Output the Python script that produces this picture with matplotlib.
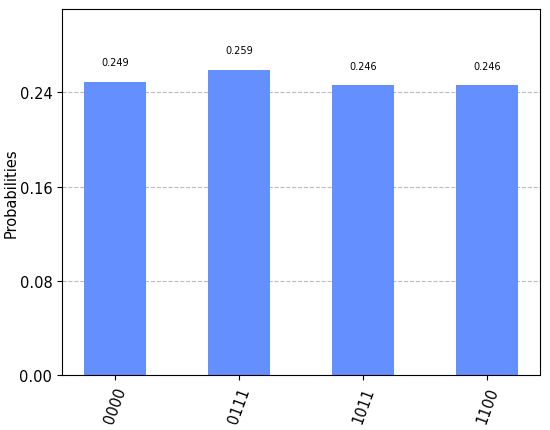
import matplotlib
matplotlib.use("Agg")
import matplotlib.pyplot as plt
from matplotlib.ticker import FormatStrFormatter

# measurement outcomes and their probabilities
states = ["0000", "0111", "1011", "1100"]
probs = [0.249, 0.259, 0.246, 0.246]
yticks = [0.00, 0.08, 0.16, 0.24]


def plot_histogram(labels, values):
    fig = plt.figure(figsize=(5.5, 4.31), dpi=100)
    ax = fig.add_axes([0.1127, 0.1276, 0.8693, 0.8494])
    xs = range(len(labels))
    rects = ax.bar(xs, values, width=0.5, color="#648fff", zorder=2)
    for rect in rects:
        h = rect.get_height()
        ax.text(rect.get_x() + rect.get_width() / 2., 1.05 * h, "%.3f" % h,
                ha="center", va="bottom", fontsize=7, zorder=3)
    ax.set_xticks(list(xs))
    ax.set_xticklabels(labels, fontsize=10.5, rotation=70)
    ax.set_yticks(yticks)
    ax.yaxis.set_major_formatter(FormatStrFormatter("%.2f"))
    ax.tick_params(axis="y", labelsize=10.5)
    ax.set_ylim(0, max(values) * 1.2)
    ax.set_ylabel("Probabilities", fontsize=10.5)
    ax.yaxis.set_label_coords(-0.09, 0.5)
    ax.grid(axis="y", linestyle="--", color="#bbbbbb", zorder=0)
    ax.set_axisbelow(True)
    return fig


if __name__ == "__main__":
    figure = plot_histogram(states, probs)
    figure.savefig("out.png")
